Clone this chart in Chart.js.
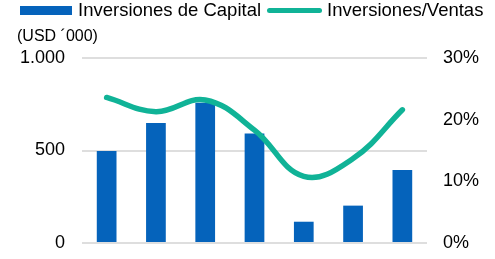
<!DOCTYPE html>
<html>
<head>
<meta charset="utf-8">
<script src="https://cdn.jsdelivr.net/npm/chart.js@4"></script>
<style>
  html, body { margin: 0; padding: 0; background: #fff; }
  #wrap { position: relative; width: 495px; height: 259px; font-family: "Liberation Sans", Arial, sans-serif; color: #000; }
  #chart { position: absolute; left: 0; top: 0; }
  .legend { position: absolute; top: -1px; left: 20px; font-size: 18.5px; white-space: nowrap; display: flex; align-items: center; }
  .legend .box { display: inline-block; width: 52px; height: 9px; background: #0563BB; margin-right: 6px; }
  .legend .ln { display: inline-block; width: 55px; height: 5px; border-radius: 3px; background: #10B397; margin: 0 5px 0 6px; }
  .unit { position: absolute; top: 27px; left: 17px; font-size: 16px; }
</style>
</head>
<body>
<div id="wrap">
  <canvas id="chart" width="495" height="259"></canvas>
  <div class="legend"><span class="box"></span>Inversiones de Capital<span class="ln"></span>Inversiones/Ventas</div>
  <div class="unit">(USD ´000)</div>
</div>
<script>
// values
const categories = ['1', '2', '3', '4', '5', '6', '7'];
const capex = [497, 648, 758, 592, 115, 202, 395];
const capexToSales = [23.6, 21.3, 23.2, 18.3, 10.8, 13.7, 21.6];
const leftTicks = [0, 500, 1000];
const rightTicks = [0, 10, 20, 30];

const fmtThousands = v => v.toString().replace(/\B(?=(\d{3})+(?!\d))/g, '.');

new Chart(document.getElementById('chart'), {
    data: {
        labels: categories,
        datasets: [{
            type: 'line',
            label: 'Inversiones/Ventas',
            data: capexToSales,
            yAxisID: 'y2',
            borderColor: '#10B397',
            borderWidth: 5.5,
            tension: 0.4,
            pointRadius: 0,
            borderCapStyle: 'round',
            order: 1
        }, {
            type: 'bar',
            label: 'Inversiones de Capital',
            data: capex,
            yAxisID: 'y',
            backgroundColor: '#0563BB',
            categoryPercentage: 1,
            barPercentage: 0.4,
            order: 2
        }]
    },
    options: {
        responsive: false,
        animation: false,
        layout: { padding: { top: 58, bottom: 16, left: 0, right: 0 } },
        plugins: { legend: { display: false }, tooltip: { enabled: false } },
        scales: {
            x: { display: false },
            y: {
                position: 'left',
                min: 0, max: 1000,
                afterBuildTicks: s => { s.ticks = leftTicks.map(v => ({ value: v })); },
                afterFit: s => { s.width = 82; s.paddingTop = 0; s.paddingBottom = 0; },
                border: { display: false },
                grid: { color: '#dedede', lineWidth: 2, drawTicks: false },
                ticks: {
                    padding: 17,
                    color: '#000',
                    font: { family: 'Liberation Sans', size: 18 },
                    callback: v => fmtThousands(v)
                }
            },
            y2: {
                position: 'right',
                min: 0, max: 30,
                afterBuildTicks: s => { s.ticks = rightTicks.map(v => ({ value: v })); },
                afterFit: s => { s.width = 68; s.paddingTop = 0; s.paddingBottom = 0; },
                border: { display: false },
                grid: { display: false, drawTicks: false },
                ticks: {
                    padding: 16,
                    color: '#000',
                    font: { family: 'Liberation Sans', size: 18 },
                    callback: v => v + '%'
                }
            }
        }
    }
});
</script>
</body>
</html>
